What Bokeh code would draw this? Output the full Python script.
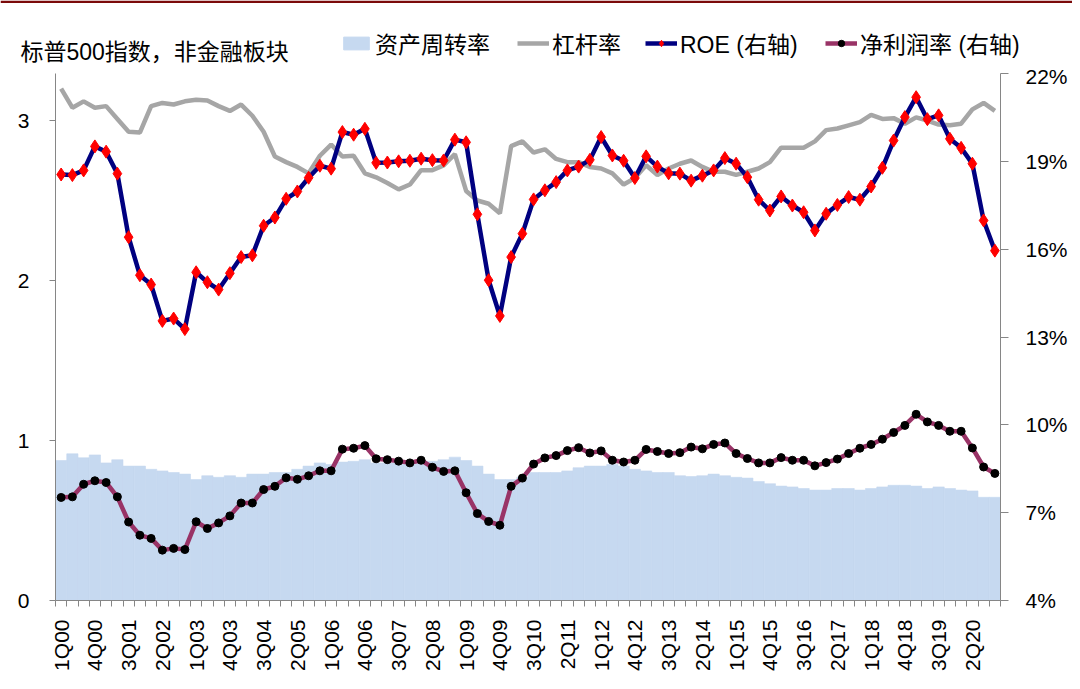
from bokeh.plotting import figure
from bokeh.models import Range1d, LinearAxis, FixedTicker, Legend, LegendItem, Label, Span
from bokeh.layouts import column
from bokeh.embed import file_html
from bokeh.resources import INLINE
from math import pi

quarters = [f"{q}Q{y:02d}" for y in range(0, 21) for q in range(1, 5)]

turnover = [0.875, 0.917, 0.892, 0.91, 0.86, 0.88, 0.84, 0.84, 0.82, 0.81,
            0.80, 0.79, 0.756, 0.78, 0.77, 0.78, 0.77, 0.79, 0.79, 0.80,
            0.80, 0.82, 0.84, 0.86, 0.85, 0.865, 0.87, 0.88, 0.86, 0.86,
            0.86, 0.87, 0.87, 0.87, 0.88, 0.896, 0.875, 0.84, 0.79, 0.756,
            0.756, 0.77, 0.80, 0.80, 0.80, 0.81, 0.83, 0.84, 0.84, 0.85,
            0.84, 0.82, 0.81, 0.80, 0.80, 0.78, 0.775, 0.78, 0.79, 0.78,
            0.77, 0.765, 0.744, 0.73, 0.715, 0.71, 0.70, 0.69, 0.69, 0.70,
            0.70, 0.69, 0.70, 0.71, 0.72, 0.72, 0.715, 0.70, 0.71, 0.70,
            0.69, 0.685, 0.645, 0.645]

leverage = [3.20, 3.08, 3.12, 3.08, 3.09, 3.01, 2.93, 2.925, 3.09, 3.11,
            3.10, 3.12, 3.13, 3.125, 3.09, 3.06, 3.10, 3.03, 2.93, 2.775,
            2.74, 2.71, 2.67, 2.78, 2.85, 2.775, 2.78, 2.67, 2.645, 2.61,
            2.57, 2.60, 2.69, 2.69, 2.72, 2.79, 2.56, 2.50, 2.48, 2.42,
            2.84, 2.87, 2.80, 2.82, 2.76, 2.74, 2.74, 2.71, 2.70, 2.67,
            2.60, 2.64, 2.72, 2.66, 2.70, 2.73, 2.75, 2.71, 2.68, 2.68,
            2.66, 2.68, 2.70, 2.74, 2.83, 2.83, 2.83, 2.87, 2.94, 2.95,
            2.97, 2.99, 3.035, 3.01, 3.015, 2.98, 3.02, 3.00, 2.975, 2.97,
            2.98, 3.07, 3.11, 3.06]

roe = [18.55, 18.53, 18.69, 19.51, 19.33, 18.58, 16.41, 15.11, 14.79, 13.55,
       13.63, 13.27, 15.21, 14.87, 14.62, 15.18, 15.73, 15.79, 16.80, 17.08,
       17.72, 17.97, 18.44, 18.85, 18.75, 20.00, 19.91, 20.11, 18.95, 18.96,
       19.00, 19.02, 19.09, 19.04, 19.03, 19.74, 19.65, 17.19, 14.94, 13.72,
       15.73, 16.53, 17.70, 18.01, 18.29, 18.69, 18.82, 19.05, 19.83, 19.20,
       19.02, 18.43, 19.17, 18.82, 18.59, 18.58, 18.34, 18.51, 18.69, 19.11,
       18.92, 18.46, 17.69, 17.32, 17.80, 17.49, 17.26, 16.64, 17.21, 17.51,
       17.78, 17.69, 18.14, 18.78, 19.71, 20.51, 21.19, 20.44, 20.57, 19.77,
       19.46, 18.92, 16.98, 15.95]

margin = [7.52, 7.54, 7.97, 8.09, 8.03, 7.54, 6.68, 6.23, 6.12, 5.72,
          5.78, 5.74, 6.69, 6.46, 6.65, 6.89, 7.33, 7.33, 7.79, 7.90,
          8.19, 8.14, 8.26, 8.43, 8.43, 9.17, 9.20, 9.29, 8.84, 8.81,
          8.76, 8.70, 8.79, 8.55, 8.41, 8.43, 7.68, 6.97, 6.70, 6.57,
          7.90, 8.18, 8.66, 8.87, 8.95, 9.12, 9.22, 9.04, 9.11, 8.79,
          8.73, 8.79, 9.16, 9.09, 9.02, 9.05, 9.24, 9.18, 9.33, 9.38,
          9.02, 8.85, 8.70, 8.70, 8.88, 8.79, 8.79, 8.60, 8.71, 8.83,
          9.02, 9.20, 9.33, 9.51, 9.74, 9.98, 10.36, 10.10, 9.98, 9.78,
          9.78, 9.21, 8.56, 8.34]

left_ticks = [0, 1, 2, 3]
right_ticks = [4, 7, 10, 13, 16, 19, 22]
label_step = 3

title_text = "标普500指数，非金融板块"
names = ["资产周转率", "杠杆率", "ROE (右轴)", "净利润率 (右轴)"]

FONT = "Liberation Sans, Noto Sans CJK SC"
FS = "21px"
FS_LEG = "23px"
AXIS_COLOR = "#868686"
C_BAR = "#C6D9F0"
C_LEV = "#A6A6A6"
C_ROE = "#000080"
C_ROE_PT = "#FF0000"
C_NM = "#993366"
C_NM_PT = "#000000"
C_TOP = "#7B0A0A"

W = 1072
STRIP_H = 64
MAIN_H = 673 - STRIP_H

n = len(quarters)
xc = [i + 0.5 for i in range(n)]

# ---------------- main chart ----------------
p = figure(width=W, height=MAIN_H, output_backend="svg", toolbar_location=None,
           x_range=Range1d(0, n), y_range=Range1d(0, 3.294),
           min_border_left=55, min_border_right=W - 1000, min_border_top=9,
           min_border_bottom=73)
p.frame_align = False
p.extra_y_ranges = {"pct": Range1d(4, 22)}
p.grid.visible = False
p.outline_line_color = None

p.vbar(x=xc, top=turnover, width=1.0, fill_color=C_BAR, line_color=C_BAR, line_width=0.6)
p.line(xc, leverage, line_color=C_LEV, line_width=4.5)
p.line(xc, margin, line_color=C_NM, line_width=4.5, y_range_name="pct")
p.scatter(xc, margin, marker="circle", size=8, fill_color=C_NM_PT, line_color=C_NM_PT,
          y_range_name="pct")
p.line(xc, roe, line_color=C_ROE, line_width=4.5, y_range_name="pct")
p.scatter(xc, roe, marker="diamond", size=13, fill_color=C_ROE_PT, line_color=C_ROE_PT,
          y_range_name="pct")

ya = p.yaxis[0]
ya.ticker = FixedTicker(ticks=left_ticks)
ya.major_label_text_font_size = FS
ya.major_label_text_font = FONT
ya.major_label_text_color = "black"
ya.axis_line_color = AXIS_COLOR
ya.major_tick_line_color = AXIS_COLOR
ya.major_tick_out = 6
ya.major_tick_in = 0
ya.minor_tick_line_color = None
ya.major_label_standoff = 20

ra = LinearAxis(y_range_name="pct", ticker=FixedTicker(ticks=right_ticks),
                major_label_overrides={t: f"{t}%" for t in right_ticks})
ra.major_label_text_font_size = FS
ra.major_label_text_font = FONT
ra.major_label_text_color = "black"
ra.axis_line_color = AXIS_COLOR
ra.major_tick_line_color = AXIS_COLOR
ra.major_tick_out = 8
ra.major_tick_in = 0
ra.minor_tick_line_color = None
ra.major_label_standoff = 17
p.add_layout(ra, "right")

xa = p.xaxis[0]
label_idx = list(range(0, n, label_step))
xa.ticker = FixedTicker(ticks=[i + 0.5 for i in label_idx], minor_ticks=list(range(0, n + 1)))
xa.major_label_overrides = {i + 0.5: quarters[i] for i in label_idx}
xa.major_label_orientation = pi / 2
xa.major_label_text_font_size = FS
xa.major_label_text_font = FONT
xa.major_label_text_color = "black"
xa.axis_line_color = AXIS_COLOR
xa.major_tick_out = 0
xa.major_tick_in = 0
xa.minor_tick_line_color = AXIS_COLOR
xa.minor_tick_out = 6
xa.minor_tick_in = 0
xa.major_label_standoff = 13

# ---------------- title + legend strip ----------------
s = figure(width=W, height=STRIP_H, output_backend="svg", toolbar_location=None,
           x_range=Range1d(0, W), y_range=Range1d(0, STRIP_H),
           x_axis_type=None, y_axis_type=None,
           min_border_left=0, min_border_right=0, min_border_top=0, min_border_bottom=0)
s.frame_align = False
s.grid.visible = False
s.outline_line_color = None

s.add_layout(Span(location=STRIP_H - 1.25, dimension="width", line_color=C_TOP, line_width=2.5))

off = [-100]
r_bar = s.vbar(x=off, top=off, width=1.0, fill_color=C_BAR, line_color=C_BAR)
r_lev = s.line(x=off, y=off, line_color=C_LEV, line_width=4.5)
r_roe_l = s.line(x=off, y=off, line_color=C_ROE, line_width=4.5)
r_roe_p = s.scatter(x=off, y=off, marker="diamond", size=13, fill_color=C_ROE_PT, line_color=C_ROE_PT)
r_nm_l = s.line(x=off, y=off, line_color=C_NM, line_width=4.5)
r_nm_p = s.scatter(x=off, y=off, marker="circle", size=8, fill_color=C_NM_PT, line_color=C_NM_PT)

LEG_Y = 12    # centre of legend row, px above strip bottom
TITLE_Y = 13  # centre of title, px above strip bottom

s.add_layout(Label(x=20, y=TITLE_Y, x_units="screen", y_units="screen", text=title_text,
                   text_font=FONT, text_font_size=FS_LEG, text_baseline="middle",
                   text_color="black"))

def add_leg(label, renderers, x, gh):
    leg = Legend(items=[LegendItem(label=label, renderers=renderers)],
                 location=(x, LEG_Y - gh / 2),
                 orientation="horizontal", padding=0, margin=0, border_line_color=None,
                 background_fill_alpha=0, glyph_width=32, glyph_height=gh,
                 label_text_font=FONT, label_text_font_size=FS_LEG, label_standoff=3,
                 label_height=int(gh), label_text_baseline="middle",
                 label_text_color="black")
    s.add_layout(leg, "center")

add_leg(names[0], [r_bar], 340, 16)
add_leg(names[1], [r_lev], 517, 16)
add_leg(names[2], [r_roe_l, r_roe_p], 645, 16)
add_leg(names[3], [r_nm_l, r_nm_p], 825, 16)

layout = column(s, p, spacing=0)
open("out.html", "w").write(file_html(layout, INLINE))
